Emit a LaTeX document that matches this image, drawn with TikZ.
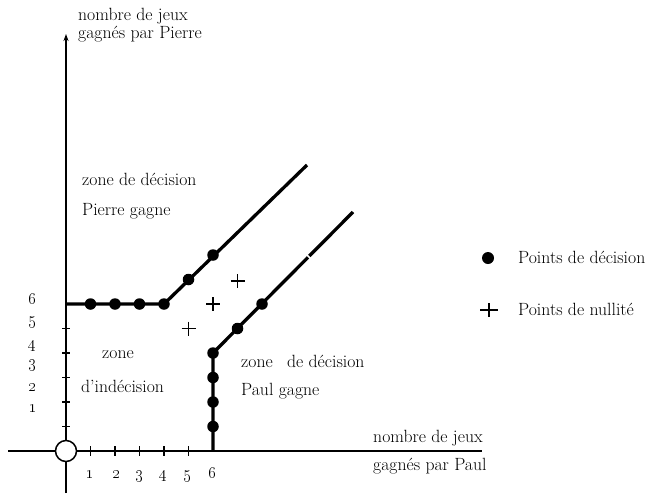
\documentclass[tikz,border=0pt]{standalone}
\usetikzlibrary{arrows.meta}
\begin{document}
\begin{tikzpicture}[x=1pt,y=-1pt,
  axis/.style={line width=1.8pt},
  tickmark/.style={line width=1.3pt},
  dline/.style={line width=3.3pt},
  dot/.style={circle,fill=black,inner sep=0pt,minimum size=11.5pt},
  lbl/.style={anchor=base west,inner sep=0pt,font=\fontsize{17.7}{20}\selectfont},
  num/.style={anchor=base,inner sep=0pt,font=\fontsize{19}{20}\selectfont},
  plus/.pic={\draw[line width=1.8pt] (-7,0) -- (7,0) (0,-7) -- (0,7);},
  bigplus/.pic={\draw[line width=1.8pt] (-9,0) -- (9,0) (0,-7) -- (0,7);}
]
\useasboundingbox (0,0) rectangle (658,493);

% axes
\coordinate (o) at (66,451);
\coordinate (ytop) at (66,34);
\coordinate (ybot) at (66,493);
\coordinate (xl) at (8,451);
\coordinate (xr) at (482,451);
\draw[axis,-{Stealth[length=7pt,width=5pt]}] (ybot) -- (ytop);
\draw[axis] (xl) -- (xr);

% ticks
\foreach \i in {1,...,5}{
  \draw[tickmark] ({66+24.5*\i},446) -- ({66+24.5*\i},456);
  \draw[tickmark] (62,{451-24.5*\i}) -- (70,{451-24.5*\i});
}

% Pierre decision boundary
\coordinate (p0) at (66,304);
\node[dot] (p1) at (90.5,304) {};
\node[dot] (p2) at (115,304) {};
\node[dot] (p3) at (139.5,304) {};
\node[dot] (p4) at (164,304) {};
\node[dot] (p5) at (188.5,279.5) {};
\node[dot] (p6) at (213,255) {};
\coordinate (pend) at (307,165);
\draw[dline] (p0) -- (p4.center) -- (pend);

% Paul decision boundary
\coordinate (q0) at (213,451);
\node[dot] (q1) at (213,426.5) {};
\node[dot] (q2) at (213,402) {};
\node[dot] (q3) at (213,377.5) {};
\node[dot] (q4) at (213,353) {};
\node[dot] (q5) at (237.5,328.5) {};
\node[dot] (q6) at (262,304) {};
\coordinate (qend) at (353,212);
\draw[dline] (q0) -- (q4.center) -- (qend);
\draw[white,line width=1.5pt] (306.5,254.5) -- (311.5,259.5);

% draw points
\pic at (188.5,328.5) {plus};
\pic at (213,304) {plus};
\pic at (237.5,281) {plus};

% origin circle
\node[circle,draw,fill=white,line width=1.5pt,minimum size=21pt,inner sep=0pt] (oc) at (o) {};

% axis numbers
\foreach \n/\x in {1/90,2/117,3/140,4/164,5/188,6/213}{
  \node[num] (xn\n) at (\x,478) {\oldstylenums{\n}};
}
\node[num] (yn6) at (33,304) {\oldstylenums{6}};
\node[num] (yn5) at (33,324) {\oldstylenums{5}};
\node[num] (yn4) at (33,348) {\oldstylenums{4}};
\node[num] (yn3) at (33,367) {\oldstylenums{3}};
\node[num] (yn2) at (33,391) {\oldstylenums{2}};
\node[num] (yn1) at (33,412) {\oldstylenums{1}};

% texts
\node[lbl] (ya1) at (78,20) {nombre de jeux};
\node[lbl] (ya2) at (78,38) {gagnés par Pierre};
\node[lbl] (zp1) at (82,185) {zone de décision};
\node[lbl] (zp2) at (82,215) {Pierre gagne};
\node[lbl] (zi1) at (102,358) {zone};
\node[lbl] (zi2) at (81,392) {d'indécision};
\node[lbl] (zq1) at (241,367) {zone\hspace{9pt} de décision};
\node[lbl] (zq2) at (241,395) {Paul gagne};
\node[lbl] (xa1) at (373,442) {nombre de jeux};
\node[lbl] (xa2) at (373,470) {gagnés par Paul};

% legend
\node[dot,minimum size=12pt] (ld) at (488,258) {};
\node[lbl] (lt1) at (518,263) {Points de décision};
\pic at (489,310) {bigplus};
\node[lbl] (lt2) at (518,315) {Points de nullité};
\end{tikzpicture}
\end{document}
